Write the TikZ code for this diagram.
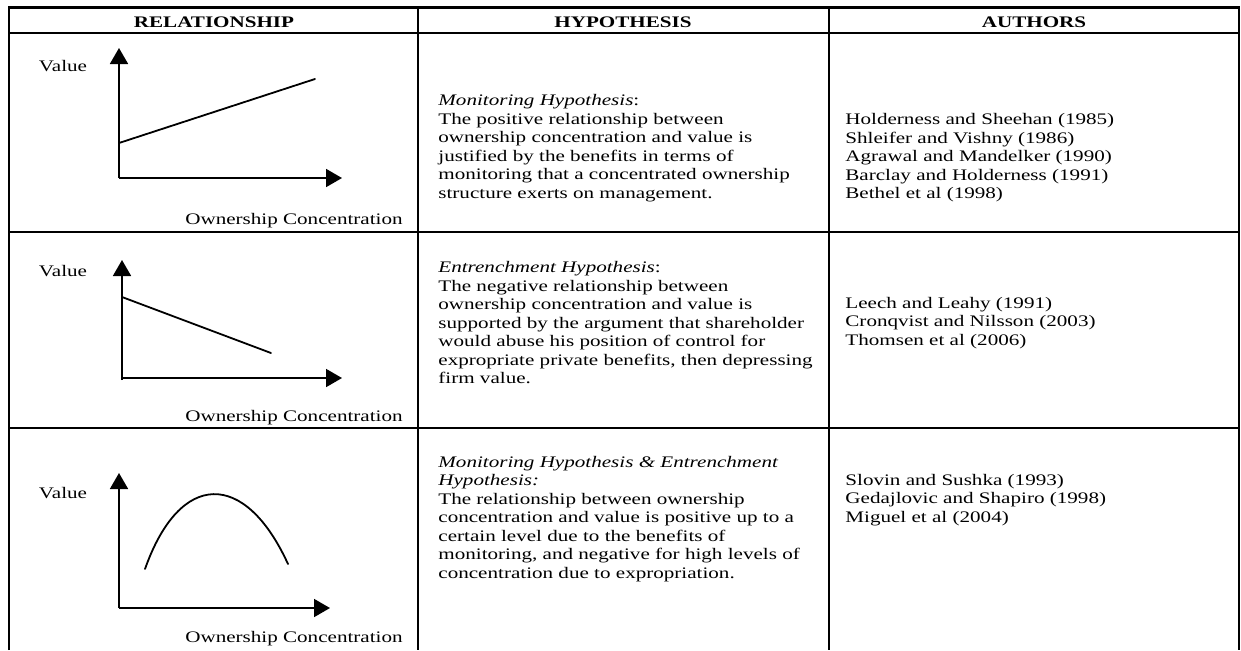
\documentclass[tikz,border=0pt]{standalone}
\usepackage{fontspec}
\setmainfont{Liberation Serif}[FakeStretch=1.31]
\usetikzlibrary{arrows.meta, positioning}
\tikzset{
    >={Triangle[length=8pt,width=9pt]}, % filled heads on the axes
    rule/.style={line width=1.2pt}, % table lines
    axis/.style={->, line width=0.9pt},
    plot/.style={line width=0.9pt, line cap=round},
    head/.style={font=\fontsize{8.05}{9.25}\selectfont\bfseries},
    cell/.style={align=left, anchor=west, inner sep=0pt},
    lbl/.style={inner sep=0pt}
}

\begin{document}
\begin{tikzpicture}[x=0.5pt,y=-0.5pt,every node/.style={font=\fontsize{8.05}{9.25}\selectfont}]
    \useasboundingbox (0,0) rectangle (1241,650);

    % table
    \draw[rule] (9,650) -- (9,7.5) -- (1239,7.5) -- (1239,650);
    \draw[rule] (9,33) -- (1239,33);
    \draw[rule] (9,232) -- (1239,232);
    \draw[rule] (9,428) -- (1239,428);
    \draw[rule] (418,7.5) -- (418,650);
    \draw[rule] (829,7.5) -- (829,650);

    \node[head] (hrel) at (214,22) {RELATIONSHIP};
    \node[head] (hhyp) at (623,22) {HYPOTHESIS};
    \node[head] (haut) at (1034,22) {AUTHORS};

    % first row: positive
    \coordinate (o1) at (119,178);
    \draw[axis] (o1) -- (119,48);
    \draw[axis] (o1) -- (342,178);
    \draw[plot] (119,143) -- (315,79);
    \node[lbl] (val1) at (63,66) {Value};
    \node[lbl, anchor=east] (own1) at (403,221) {Ownership Concentration};
    \node[cell] (hyp1) at (438,148) {\textit{Monitoring Hypothesis}:\\
        The positive relationship between\\
        ownership concentration and value is\\
        justified by the benefits in terms of\\
        monitoring that a concentrated ownership\\
        structure exerts on management.};
    \node[cell] (aut1) at (845,158) {Holderness and Sheehan (1985)\\
        Shleifer and Vishny (1986)\\
        Agrawal and Mandelker (1990)\\
        Barclay and Holderness (1991)\\
        Bethel et al (1998)};

    % second row: negative
    \coordinate (o2) at (122,380);
    \draw[axis] (o2) -- (122,260);
    \draw[axis] (122,378) -- (342,378);
    \draw[plot] (122,297) -- (271,353);
    \node[lbl] (val2) at (63,271) {Value};
    \node[lbl, anchor=east] (own2) at (403,418) {Ownership Concentration};
    \node[cell] (hyp2) at (438,323) {\textit{Entrenchment Hypothesis}:\\
        The negative relationship between\\
        ownership concentration and value is\\
        supported by the argument that shareholder\\
        would abuse his position of control for\\
        expropriate private benefits, then depressing\\
        firm value.};
    \node[cell] (aut2) at (845,323) {Leech and Leahy (1991)\\
        Cronqvist and Nilsson (2003)\\
        Thomsen et al (2006)};

    % third row: inverted U
    \coordinate (o3) at (119,608);
    \draw[axis] (o3) -- (119,473);
    \draw[axis] (o3) -- (330,608);
    \draw[plot] (145,569) .. controls (180,470) and (245,470) .. (288,564);
    \node[lbl] (val3) at (63,493) {Value};
    \node[lbl, anchor=east] (own3) at (403,639) {Ownership Concentration};
    \node[cell] (hyp3) at (438,519) {\textit{Monitoring Hypothesis \& Entrenchment}\\
        \textit{Hypothesis:}\\
        The relationship between ownership\\
        concentration and value is positive up to a\\
        certain level due to the benefits of\\
        monitoring, and negative for high levels of\\
        concentration due to expropriation.};
    \node[cell] (aut3) at (845,500) {Slovin and Sushka (1993)\\
        Gedajlovic and Shapiro (1998)\\
        Miguel et al (2004)};
\end{tikzpicture}
\end{document}
